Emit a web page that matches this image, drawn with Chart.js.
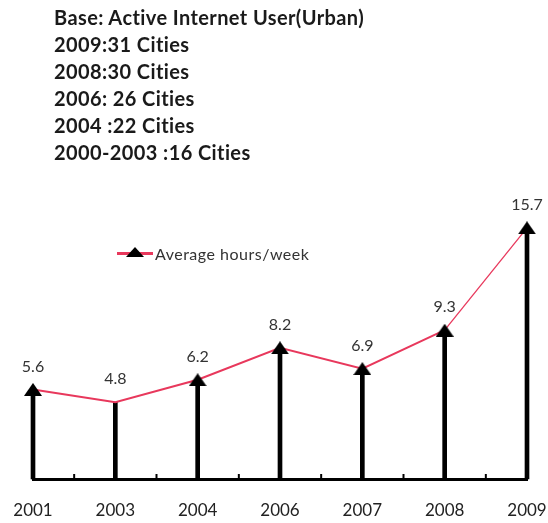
<!DOCTYPE html>
<html>
<head>
<meta charset="utf-8">
<script src="https://cdn.jsdelivr.net/npm/chart.js@4/dist/chart.umd.min.js"></script>
<style>
  html, body { margin: 0; padding: 0; background: #fff; }
  #wrap { position: relative; width: 548px; height: 523px; overflow: hidden; }
  #chart { position: absolute; left: 0; top: 0; }
  #header { position: absolute; left: 54px; top: 4px; font-family: Lato, "Open Sans", sans-serif; font-weight: bold; font-size: 20px; letter-spacing: 0.4px; color: #1a1a1a; line-height: 27px; }
  #legend { position: absolute; left: 117px; top: 244px; font-family: Lato, "Open Sans", sans-serif; font-size: 16px; letter-spacing: 0.5px; color: #333; display: flex; align-items: center; height: 18px; }
  #legend .sym { position: relative; width: 36px; height: 18px; margin-right: 2px; }
  #legend .ln { position: absolute; left: 0; top: 8px; width: 36px; height: 2.5px; background: #e8385c; }
  #legend .tri { position: absolute; left: 9px; top: 3px; width: 0; height: 0; border-left: 9px solid transparent; border-right: 9px solid transparent; border-bottom: 10px solid #000; }
</style>
</head>
<body>
<div id="wrap">
  <canvas id="chart" width="548" height="523"></canvas>
  <div id="header">
    <div>Base: Active Internet User(Urban)</div>
    <div>2009:31 Cities</div>
    <div>2008:30 Cities</div>
    <div>2006: 26 Cities</div>
    <div>2004 :22 Cities</div>
    <div>2000-2003 :16 Cities</div>
  </div>
  <div id="legend"><span class="sym"><span class="ln"></span><span class="tri"></span></span><span id="legendText"></span></div>
</div>
<script>
const years = ["2001", "2003", "2004", "2006", "2007", "2008", "2009"];
const avgHours = [5.6, 4.8, 6.2, 8.2, 6.9, 9.3, 15.7];
const seriesName = "Average hours/week";

document.getElementById('legendText').textContent = seriesName;

const RED = '#e8385c';
const FONT = 'Lato, "Open Sans", sans-serif';

// flat triangle marker
const tri = document.createElement('canvas');
tri.width = 18; tri.height = 13;
(function () {
  const c = tri.getContext('2d');
  c.fillStyle = '#000';
  c.beginPath();
  c.moveTo(9, 0);
  c.lineTo(18, 13);
  c.lineTo(0, 13);
  c.closePath();
  c.fill();
})();

const valueLabels = {
  id: 'valueLabels',
  afterDatasetsDraw(chart) {
    const ctx = chart.ctx;
    const meta = chart.getDatasetMeta(0);
    ctx.save();
    ctx.font = '16px ' + FONT;
    ctx.fillStyle = '#333';
    ctx.textAlign = 'center';
    ctx.textBaseline = 'middle';
    meta.data.forEach((pt, i) => {
      ctx.fillText(String(chart.data.datasets[0].data[i]), pt.x, pt.y - 23);
    });
    ctx.restore();
  }
};

const midTicks = {
  id: 'midTicks',
  afterDatasetsDraw(chart) {
    const xs = chart.scales.x;
    const ctx = chart.ctx;
    const bottom = chart.chartArea.bottom;
    ctx.save();
    ctx.strokeStyle = '#000';
    ctx.lineWidth = 2;
    for (let i = 0; i < years.length - 1; i++) {
      const x = (xs.getPixelForTick(i) + xs.getPixelForTick(i + 1)) / 2;
      ctx.beginPath();
      ctx.moveTo(x, bottom - 5);
      ctx.lineTo(x, bottom);
      ctx.stroke();
    }
    ctx.restore();
  }
};

new Chart(document.getElementById('chart'), {
  data: {
    labels: years,
    datasets: [
      {
        type: 'line',
        label: seriesName,
        data: avgHours,
        borderColor: RED,
        borderWidth: 2,
        pointStyle: tri,
        pointRadius: [7, 0, 7, 7, 7, 7, 7],
        tension: 0,
        clip: false,
        order: 0,
        segment: { borderWidth: c => (c.p1DataIndex === years.length - 1 ? 1.3 : 2) }
      },
      {
        type: 'bar',
        label: 'stems',
        data: avgHours,
        backgroundColor: '#000',
        barThickness: 4,
        clip: false,
        order: 1
      }
    ]
  },
  options: {
    responsive: false,
    animation: false,
    events: [],
    layout: { padding: { left: 33, right: 21, top: 191, bottom: 0 } },
    plugins: { legend: { display: false }, tooltip: { enabled: false } },
    scales: {
      x: {
        offset: false,
        grid: { display: false, drawTicks: false },
        border: { display: true, color: '#000', width: 3 },
        ticks: { color: '#222', font: { size: 17, family: FONT }, padding: 21, maxRotation: 0, autoSkip: false },
        afterFit(s) { s.height = 44; s.paddingLeft = 0; s.paddingRight = 0; }
      },
      y: { display: false, min: 0, max: 18 }
    }
  },
  plugins: [valueLabels, midTicks]
});
</script>
</body>
</html>
